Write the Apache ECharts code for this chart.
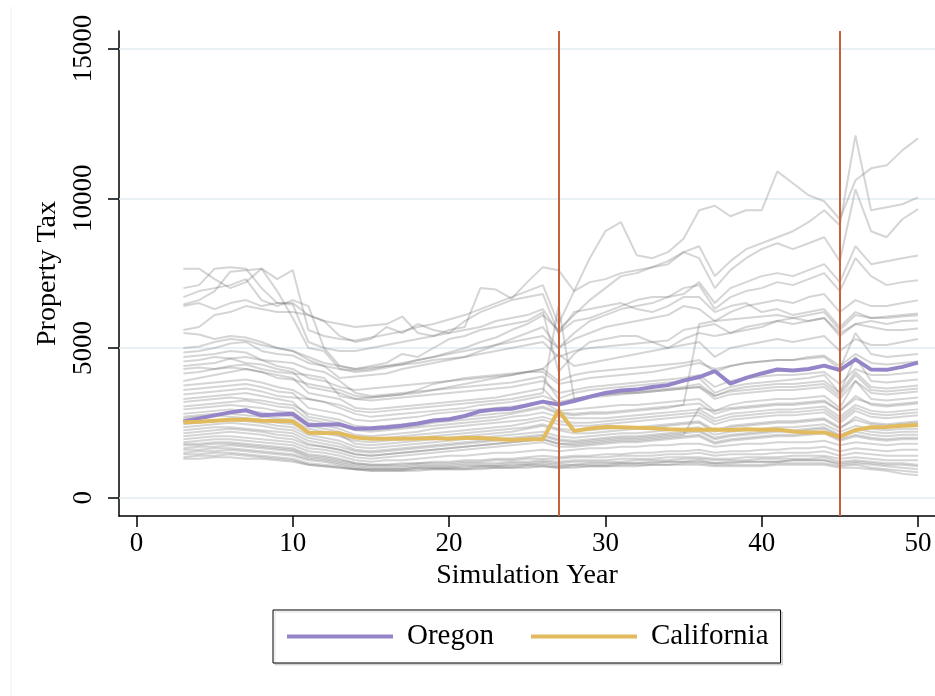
<!DOCTYPE html>
<html><head><meta charset="utf-8">
<script src="https://cdn.jsdelivr.net/npm/echarts@6/dist/echarts.min.js"></script>
<style>html,body{margin:0;padding:0;background:#fff}#c{width:935px;height:696px}</style>
</head><body><div id="c"></div>
<script>
const years = [3,4,5,6,7,8,9,10,11,12,13,14,15,16,17,18,19,20,21,22,23,24,25,26,27,28,29,30,31,32,33,34,35,36,37,38,39,40,41,42,43,44,45,46,47,48,49,50];
const xTicks = [0,10,20,30,40,50];
const yTicks = [0,5000,10000,15000];
const eventYears = [27,45];

const oregon = [2550,2650,2750,2850,2920,2750,2780, 2800,2420,2440,2450,2300,2320,2350,2400,2480,2580, 2620,2730,2890,2950,2970,3090,3210,3110,3230,3370, 3500,3580,3610,3700,3760,3910,4030,4230,3810,4000, 4150,4280,4250,4300,4410,4260,4620,4280,4270,4370,4510];
const california = [2520,2540,2570,2600,2610,2570,2560, 2550,2170,2160,2150,2010,1970,1970,1970,1980,1990, 1970,2000,1990,1960,1930,1950,1950,2910,2230,2310, 2360,2350,2340,2320,2290,2270,2270,2280,2260,2290, 2270,2280,2210,2180,2180,2030,2260,2350,2360,2400,2430];

const h1 = [6450,6600,6900,7550,7600,7650,7300, 7600,5600,5400,5300,5250,5350,5450,5550,5700,5800, 5950,6100,6300,6500,6700,6900,7100,5800,6900,8000, 8900,9200,8100,8000,8200,8650,9600,9750,9400,9600, 9600,10900,10500,10100,9900,9300,10600,11000,11100,11600,12000];
const h2 = [7650,7650,7300,7000,7200,7650,6900, 6000,5000,4900,4300,4200,4250,4350,4450,4600,4700, 4850,5000,5200,5350,5600,5800,6100,5600,6100,6600, 7000,7400,7500,7700,7900,8200,8400,7400,7900,8300, 8500,8700,8900,9200,9600,9100,12100,9600,9700,9800,10030];
const h3 = [7000,7100,7650,7700,7650,7000,6500, 6500,6100,5900,5800,5700,5750,5800,6050,5500,5400, 5600,5700,7000,6950,6650,7200,7700,7600,6900,7200, 7300,7500,7600,7700,7800,8200,8000,7000,7600,8000, 8300,8500,8300,8500,8700,7900,10300,8900,8700,9300,9640];
const h4 = [6700,6900,7000,7100,7300,6600,6400, 6600,6400,5000,4900,4900,5000,5100,5200,5300,5400, 5500,5600,5700,5900,6000,6100,6300,5500,5900,6000, 6200,6400,6600,6700,6700,6800,7200,6500,7000,7200, 7400,7500,7400,7600,7800,7200,8400,7800,7900,8000,8090];
const h5 = [6400,6500,6300,6500,6600,6400,6500, 6450,5200,5000,4400,4300,4400,4500,4800,4700,5000, 5300,5400,5600,5700,5800,5900,6200,4200,4800,5200, 5300,5400,5400,5200,5000,5300,5500,5400,5500,5600, 5700,5900,5800,5900,6000,5400,5800,5900,5800,5900,5920];
const h6 = [5600,5700,6100,6200,6400,6300,6200, 6200,6100,5900,5400,5200,5300,5700,5500,5800,5600, 5500,5900,6200,6400,6600,6700,6800,5500,6200,6300, 6400,6500,6300,6200,6400,6700,6700,6200,6400,6500, 6200,6300,6100,6200,6300,5700,6200,6000,6000,6050,6090];
const h7 = [5500,5450,5300,5400,5350,5200,5000, 4900,4700,4500,4400,4300,4350,4400,4450,4500,4600, 4650,4700,4800,4900,5000,5100,5200,4700,4900,5000, 5050,5100,5150,5200,5250,5600,5700,5800,5500,5700, 5800,5900,6000,5900,6000,5500,5800,5700,5600,5600,5650];
const h8 = [5000,5050,5200,5300,5250,5100,5000, 4900,4600,4400,4000,4050,4100,4150,4300,4400,4500, 4600,4700,4900,5100,5300,5500,5700,5000,5300,5500, 5700,5800,5900,6000,6100,6400,6300,5900,6200,6400, 6500,6600,6500,6700,6800,6200,6600,6400,6400,6500,6590];
const h9 = [4850,4900,5000,5150,5200,4900,4800, 4750,4500,4400,4300,4250,4300,4400,4500,4600,4700, 4800,4900,5000,5100,5200,5300,5400,5000,5500,5900, 6100,6300,6400,6500,6700,7000,7100,6300,6700,6900, 7000,7200,7100,7300,7500,6900,8000,7400,7100,7200,7260];
const m1 = [4700,4750,4800,4900,4850,4600,4400, 4300,4000,3900,3700,3600,3650,3700,3750,3800,3850, 3900,3950,4000,4050,4100,4200,4300,3900,4100,4200, 4250,4300,4350,4400,4450,4500,4600,4200,4400,4500, 4550,4600,4600,4650,4700,4300,5500,4800,4700,4750,4800];
const m2 = [4550,4600,4700,4650,4500,4450,4300, 4200,3700,3600,3500,3300,3250,3300,3350,3400,3450, 3500,3550,3600,3650,3700,3800,3900,3500,3600,3700, 3750,3800,3850,3900,3950,4000,4100,3700,3900,4000, 4050,4100,4100,4150,4200,3800,4300,4100,4100,4150,4200];
const m3 = [4400,4450,4500,4650,4700,4600,4550, 4500,4300,4200,3900,3500,3400,3450,3500,3550,3600, 3650,3700,3750,3800,3850,3950,4050,3300,3500,3600, 3650,3700,3750,3800,3850,3900,4000,3500,3700,3800, 3850,3900,3950,4000,4100,3500,4700,3900,3850,3900,3950];
const m4 = [4300,4350,4300,4400,4450,4300,4200, 4150,4100,4000,3400,3300,3350,3400,3450,3500,3600, 3700,3800,3900,4000,4100,4200,4300,4800,4400,4500, 4600,4700,4800,4900,5000,5100,5200,4700,5000,5100, 5200,5300,5200,5300,5400,4900,5300,5100,5100,5200,5300];
const m5 = [4150,4200,4300,4350,4300,4200,4100, 4000,3500,3400,3300,3000,2950,3000,3050,3100,3150, 3200,3250,3300,3350,3450,3550,3650,3100,3300,3400, 3450,3500,3550,3600,3650,3700,3800,3400,3600,3700, 3750,3800,3800,3850,3900,3500,4200,3700,3650,3700,3750];
const m6 = [3900,4000,4100,4200,4300,4200,4000, 3950,3800,3700,3600,3400,3350,3400,3450,3600,3800, 3900,4000,4050,4100,4150,4200,4200,3800,3900,4000, 4050,4100,4150,4200,4300,4400,4500,4300,4400,4500, 4550,4600,4600,4700,4750,4400,4800,4500,4450,4500,4550];
const m7 = [3750,3800,3850,3900,3950,3850,3700, 3600,3300,3200,3100,2900,2850,2900,2950,3000,3050, 3100,3150,3200,3250,3300,3400,3500,6400,3300,3400, 3450,3500,3500,3550,3600,3650,3700,3300,3450,3500, 3550,3600,3600,3650,3700,3300,3900,3500,3450,3500,3550];
const m8 = [3600,3650,3700,3750,3800,3700,3550, 3500,3000,2900,2800,2600,2550,2600,2650,2700,2800, 2850,2900,2950,3000,3050,3100,3200,2900,2950,3000, 3050,3100,3100,3150,3200,3250,3300,2900,3100,3200, 3250,3300,3300,3350,3400,3000,3900,3300,3250,3300,3350];
const m9 = [3450,3500,3550,3600,3650,3550,3400, 3350,3300,3200,3000,2800,2700,2750,2800,2850,2900, 2950,3000,3100,3150,3200,3300,3400,3200,3300,3350, 3400,3450,3500,3550,3600,3650,3700,3400,3550,3600, 3650,3700,3700,3750,3800,3400,4100,3600,3550,3600,3650];
const m10 = [3300,3350,3400,3450,3500,3400,3300, 3200,2700,2600,2500,2300,2250,2300,2350,2400,2500, 2550,2600,2650,2700,2800,2900,3000,2800,2750,2800, 2800,2850,2900,2950,3000,3100,5800,5900,5950,6000, 6050,6100,6000,6100,6200,5600,6100,6000,6050,6100,6150];
const m11 = [3200,3250,3300,3350,3300,3250,3150, 3100,2800,2700,2600,2400,2350,2400,2450,2500,2600, 2650,2700,2750,2800,2850,2950,3050,2850,2800,2850, 2850,2900,2950,3000,3050,3100,3150,2800,2950,3000, 3050,3100,3100,3150,3200,2900,3400,3100,3050,3100,3150];
const m12 = [3050,3100,3150,3200,3250,3150,3050, 3000,2600,2500,2400,2250,2200,2250,2300,2350,2400, 2450,2500,2550,2600,2700,2750,2850,2700,2650,2650, 2650,2700,2750,2800,2850,2900,2950,2650,2800,2850, 2900,2950,2950,3000,3050,2700,3100,2900,2850,2900,2950];
const l1 = [2950,3000,3050,3100,3050,3000,2900, 2850,2500,2400,2300,2100,2050,2100,2150,2200,2300, 2350,2400,2450,2500,2550,2600,2700,2550,2500,2500, 2550,2600,2650,2700,2750,2800,2850,2550,2700,2750, 2800,2850,2850,2900,2950,2600,3000,2800,2750,2800,2850];
const l2 = [2800,2850,2900,2950,2900,2850,2750, 2700,2400,2300,2200,2000,1950,2000,2050,2100,2150, 2200,2250,2300,2350,2400,2500,2600,2450,2400,2400, 2450,2500,2550,2600,2650,2700,2750,2450,2600,2650, 2700,2750,2750,2800,2850,2500,2900,2700,2650,2700,2750];
const l3 = [2700,2750,2800,2800,2750,2700,2650, 2600,2300,2200,2100,1800,1750,1800,1850,1900,1950, 2000,2050,2100,2150,2200,2300,2400,2250,2150,2150, 2200,2250,2300,2350,2400,2450,2500,2200,2350,2400, 2450,2500,2500,2550,2600,2300,2700,2500,2450,2500,2550];
const l4 = [2650,2700,2750,2700,2650,2600,2500, 2450,2200,2150,2050,1900,1850,1900,1950,2000,2050, 2100,2150,2200,2250,2300,2350,2450,2300,2250,2250, 2300,2350,2350,2400,2450,2500,2550,2250,2400,2450, 2500,2550,2550,2600,2650,2350,2600,2450,2400,2450,2500];
const l5 = [2450,2500,2550,2600,2550,2500,2400, 2350,2100,2000,1900,1700,1650,1700,1750,1800,1850, 1900,1950,2000,2050,2100,2150,2200,2050,2000,2050, 2100,2150,2150,2200,2250,2300,2350,2100,2200,2250, 2300,2350,2350,2400,2450,2200,2400,2300,2250,2300,2300];
const l6 = [2350,2400,2450,2500,2450,2400,2300, 2250,2000,1900,1800,1600,1550,1600,1650,1700,1750, 1800,1850,1900,1950,2000,2050,2100,1950,1900,1950, 2000,2050,2050,2100,2150,2200,2250,2000,2100,2150, 2200,2250,2250,2300,2350,2100,2300,2200,2150,2200,2200];
const l7 = [2250,2300,2350,2350,2300,2250,2200, 2150,1900,1800,1700,1550,1500,1550,1600,1650,1700, 1750,1800,1850,1900,1950,2000,2050,1900,1850,1900, 1950,2000,2000,2050,2100,2150,2200,1950,2050,2100, 2150,2200,2200,2250,2300,2050,2200,2100,2050,2100,2100];
const l8 = [2150,2200,2250,2300,2250,2200,2100, 2050,1800,1700,1600,1450,1400,1450,1500,1550,1600, 1650,1700,1750,1800,1850,1900,1950,1800,1750,1800, 1850,1900,1900,1950,2000,2050,2100,1850,1950,2000, 2050,2100,2100,2150,2200,1950,2100,2000,1950,2000,2000];
const l9 = [2050,2100,2150,2200,2150,2100,2000, 1950,1750,1700,1600,1450,1400,1450,1500,1550,1600, 1650,1700,1750,1800,1850,1900,1950,1800,1800,1850, 1900,1950,1950,2000,2050,2100,3000,2900,3000,3050, 3100,3150,3150,3200,3250,2900,3300,3150,3100,3150,3200];
const l10 = [1950,2000,2050,2050,2000,1950,1900, 1850,1650,1600,1500,1350,1300,1350,1400,1450,1500, 1550,1600,1650,1700,1750,1800,1850,1700,1700,1750, 1800,1850,1850,1900,1950,2000,2050,1800,1900,1950, 2000,2050,2050,2100,2150,1900,2050,1950,1900,1950,1950];
const b1 = [1850,1900,1950,1950,1900,1850,1800, 1750,1550,1500,1400,1250,1200,1250,1250,1300,1350, 1400,1400,1450,1500,1500,1550,1600,1550,1600,1650, 1650,1700,1700,1750,1750,1800,1800,1700,1750,1800, 1800,1850,1850,1850,1900,1750,1850,1800,1750,1800,1800];
const b2 = [1800,1800,1850,1850,1800,1750,1700, 1650,1450,1400,1300,1150,1100,1100,1150,1150,1200, 1200,1250,1250,1300,1300,1350,1400,1350,1400,1400, 1450,1450,1500,1500,1550,1550,1600,1500,1550,1550, 1600,1600,1650,1650,1700,1550,1650,1600,1550,1600,1600];
const b3 = [1750,1750,1800,1800,1750,1700,1650, 1600,1400,1350,1250,1150,1100,1100,1100,1150,1150, 1150,1200,1200,1250,1250,1300,1300,1300,1350,1350, 1350,1400,1400,1400,1450,1450,1500,1400,1450,1450, 1450,1500,1500,1500,1550,1400,1500,1450,1400,1400,1400];
const b4 = [1650,1700,1700,1750,1700,1650,1600, 1550,1350,1300,1200,1100,1050,1050,1050,1100,1100, 1100,1150,1150,1150,1200,1200,1250,1200,1250,1250, 1250,1300,1300,1300,1350,1350,1350,1300,1300,1350, 1350,1350,1400,1400,1400,1300,1350,1300,1250,1250,1250];
const b5 = [1600,1600,1650,1650,1600,1550,1500, 1450,1300,1250,1150,1050,1000,1000,1000,1050,1050, 1050,1100,1100,1100,1150,1150,1200,1150,1200,1200, 1200,1200,1250,1250,1250,1300,1300,1250,1250,1250, 1300,1300,1300,1300,1350,1200,1250,1200,1150,1150,1100];
const b6 = [1500,1550,1550,1600,1550,1500,1450, 1400,1250,1200,1100,1000,950,950,950,1000,1000, 1000,1050,1050,1050,1100,1100,1150,1100,1100,1150, 1150,1150,1150,1200,1200,1200,1250,1150,1200,1200, 1200,1200,1250,1250,1250,1100,1150,1100,1050,1000,950];
const b7 = [1450,1450,1500,1500,1450,1400,1350, 1300,1150,1100,1050,950,900,900,900,950,950, 950,950,1000,1000,1000,1050,1050,1000,1050,1050, 1050,1100,1100,1100,1100,1150,1150,1100,1100,1100, 1100,1150,1150,1150,1150,1050,1100,1000,950,900,850];
const b8 = [1350,1400,1400,1450,1400,1350,1300, 1250,1100,1050,1000,950,900,900,900,900,950, 950,950,950,1000,1000,1000,1050,1000,1000,1050, 1050,1050,1050,1100,1100,1100,1100,1050,1050,1050, 1050,1100,1100,1100,1100,1000,1000,950,900,800,750];
const b9 = [1300,1300,1350,1350,1300,1300,1250, 1200,1100,1050,1000,950,950,950,950,1000,1000, 1000,1000,1050,1050,1050,1100,1100,1050,1100,1100, 1100,1150,1150,1150,1200,1200,1200,1150,1150,1200, 1200,1200,1250,1250,1250,1150,1200,1150,1100,1100,1050];

const grayLines = [h1,h2,h3,h4,h5,h6,h7,h8,h9,m1,m2,m3,m4,m5,m6,m7,m8,m9,m10,m11,m12,l1,l2,l3,l4,l5,l6,l7,l8,l9,l10,b1,b2,b3,b4,b5,b6,b7,b8,b9];

const FONT = '"Liberation Serif","Times New Roman",serif';
const pair = arr => years.map((y,i)=>[y, arr[i]]);

const series = [];
grayLines.forEach((arr, k) => {
  const s = {
    type: 'line', name: 'state' + k, data: pair(arr), symbol: 'none', silent: true,
    lineStyle: {color: 'rgba(105,105,105,0.28)', width: 2}, z: 2
  };
  if (k === 0) {
    s.markLine = {
      silent: true, symbol: 'none', label: {show: false}, z: 1,
      lineStyle: {color: '#e3edf0', width: 1.6, type: 'solid'},
      data: yTicks.map(v => ({yAxis: v}))
    };
  }
  series.push(s);
});
series.push({
  type: 'line', name: 'Oregon', data: pair(oregon), symbol: 'none',
  lineStyle: {color: '#9585c8', width: 4}, itemStyle: {color: '#9585c8'}, z: 3
});
series.push({
  type: 'line', name: 'California', data: pair(california), symbol: 'none',
  lineStyle: {color: '#e1bb5e', width: 4}, itemStyle: {color: '#e1bb5e'}, z: 3,
  markLine: {
    silent: true, symbol: 'none', label: {show: false},
    lineStyle: {color: '#c4613f', width: 2, type: 'solid'},
    data: eventYears.map(v => ({xAxis: v}))
  }
});

const chart = echarts.init(document.getElementById('c'), null, {renderer: 'canvas'});
chart.setOption({
  animation: false,
  backgroundColor: '#ffffff',
  textStyle: {fontFamily: FONT},
  graphic: [{type: 'line', shape: {x1: 11, y1: 7, x2: 11, y2: 696}, style: {stroke: '#eeeeee', lineWidth: 1}}],
  grid: {left: 119, right: 0, top: 31, bottom: 180, containLabel: false},
  xAxis: {
    type: 'value', min: -1.12, max: 51.09,
    name: 'Simulation Year', nameLocation: 'middle', nameGap: 45,
    nameTextStyle: {fontFamily: FONT, fontSize: 28, color: '#000'},
    axisLine: {show: true, onZero: false, lineStyle: {color: '#000', width: 1.5}},
    axisTick: {show: true, customValues: xTicks, length: 11, lineStyle: {color: '#000', width: 1.5}},
    axisLabel: {customValues: xTicks, fontFamily: FONT, fontSize: 27, color: '#000', margin: 14,
      formatter: v => String(v)},
    splitLine: {show: false}
  },
  yAxis: {
    type: 'value', min: -611, max: 15587,
    name: 'Property Tax', nameLocation: 'middle', nameGap: 57, nameRotate: 90,
    nameTextStyle: {fontFamily: FONT, fontSize: 28, color: '#000'},
    axisLine: {show: true, onZero: false, lineStyle: {color: '#000', width: 1.5}},
    axisTick: {show: true, customValues: yTicks, length: 11, lineStyle: {color: '#000', width: 1.5}},
    axisLabel: {customValues: yTicks, rotate: 90, fontFamily: FONT, fontSize: 27, color: '#000', margin: 22,
      formatter: v => String(Math.round(v))},
    splitLine: {show: false}
  },
  legend: {
    data: ['Oregon', 'California'],
    left: 273, top: 610,
    orient: 'horizontal',
    itemWidth: 106, itemHeight: 4, icon: 'rect', itemGap: 37,
    padding: [12, 12, 12, 14],
    borderColor: '#000', borderWidth: 1, backgroundColor: '#fff',
    shadowColor: 'rgba(0,0,0,0.12)', shadowOffsetX: 2, shadowOffsetY: 2, shadowBlur: 0,
    textStyle: {fontFamily: FONT, fontSize: 29, color: '#000', padding: [0, 0, 0, 9]}
  },
  series: series
});
</script>
</body></html>
